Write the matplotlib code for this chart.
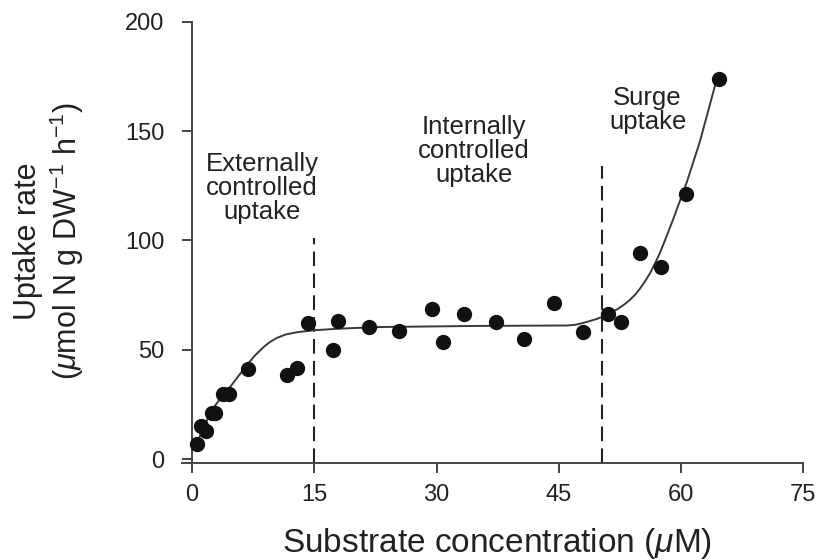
import numpy as np
import matplotlib
matplotlib.use("Agg")
from matplotlib import pyplot as plt

#   measured points
conc = [0.65, 1.07, 1.72, 2.42, 2.82, 3.84, 4.58, 6.83, 11.62, 12.85,
        14.27, 17.26, 17.95, 21.75, 25.4, 29.4, 30.8, 33.37, 37.25, 40.75,
        44.4, 48.0, 51.0, 52.6, 54.97, 57.55, 60.6, 64.7]
rate = [6.7, 15.2, 12.9, 21.2, 21.2, 30.0, 30.0, 41.2, 38.4, 41.8,
        62.1, 49.9, 63.1, 60.2, 58.5, 68.5, 53.4, 66.3, 62.5, 55.0,
        71.2, 58.2, 66.3, 62.5, 94.1, 87.9, 121.2, 173.7]

#   fitted curve
fit_x = [0.77, 1.6, 2.58, 3.6, 4.66, 5.7, 6.71, 7.7, 8.71, 9.5, 10.39, 11.5,
         12.85, 14.88, 17.0, 18.98, 23.07, 35.0, 46.0, 47.0, 47.7, 48.4, 49.6,
         50.9, 52.3, 53.0, 53.7, 54.4, 54.97, 55.6, 56.2, 56.8, 57.4, 58.2,
         59.0, 60.7, 62.3, 63.9, 64.35]
fit_y = [8.7, 16.0, 23.3, 28.2, 32.9, 38.0, 42.9, 47.3, 51.0, 53.4, 55.4, 57.0,
         58.0, 58.9, 59.4, 59.8, 60.4, 60.9, 61.1, 61.4, 62.0, 62.7, 64.0,
         65.9, 68.8, 70.6, 72.7, 75.3, 78.0, 81.4, 85.0, 89.4, 94.2, 101.6,
         109.3, 126.5, 145.0, 167.0, 173.3]

#   phase boundaries
bound_x = [15, 50.3]
bound_top = [101, 134]

phase_labels = ["Externally\ncontrolled\nuptake", "Internally\ncontrolled\nuptake", "Surge\nuptake"]
phase_x = [8.6, 34.6, 55.9]
phase_y = [124, 141, 159.5]

x_ticks = [0, 15, 30, 45, 60, 75]
y_ticks = [0, 50, 100, 150, 200]

plt.rcParams["font.family"] = ["Liberation Sans", "DejaVu Sans"]
plt.rcParams["mathtext.fontset"] = "custom"
plt.rcParams["mathtext.rm"] = "Liberation Sans"
plt.rcParams["mathtext.it"] = "Liberation Sans:italic"

txt = "#222222"
fig = plt.figure(figsize=(8.19, 5.6), dpi=100)
ax = fig.add_axes([0.2218, 0.1727, 0.759, 0.7886])

ax.plot(fit_x, fit_y, color="#3a3a3a", lw=1.4, zorder=2)
ax.plot(conc, rate, "o", color="#111111", ms=10, zorder=3)
for bx, bt in zip(bound_x, bound_top):
    ax.plot([bx, bx], [-1.9, bt], color="#222222", lw=1.5, ls=(0, (7, 3.5)), zorder=1)

for lab, px, py in zip(phase_labels, phase_x, phase_y):
    ax.text(px, py, lab, ha="center", va="center", fontsize=18.5,
            color=txt, linespacing=1.0)

ax.set_xlim(-1.27, 75)
ax.set_ylim(-1.9, 200)
ax.spines["left"].set_position(("data", 0))
ax.spines["left"].set_bounds(-1.9, 200)
ax.spines["right"].set_visible(False)
ax.spines["top"].set_visible(False)
for s in ["left", "bottom"]:
    ax.spines[s].set_color("#444444")
    ax.spines[s].set_linewidth(1.4)

ax.set_xticks(x_ticks)
ax.set_yticks(y_ticks)
ax.tick_params(axis="both", direction="out", length=7, width=1.4,
               colors="#444444", labelsize=17, labelcolor=txt)
ax.tick_params(axis="x", pad=8)
ax.tick_params(axis="y", pad=13)

fig.text(0.607, 0.03, r"Substrate concentration ($\mathit{\mu}$M)",
         ha="center", va="center", fontsize=24, color=txt)
fig.text(0.034, 0.57, "Uptake rate", rotation=90, ha="center", va="center",
         fontsize=22, color=txt)
fig.text(0.082, 0.57, r"($\mathit{\mu}$mol N g DW$^{-1}$ h$^{-1}$)", rotation=90,
         ha="center", va="center", fontsize=22, color=txt)

plt.savefig("out.png", dpi=100)
